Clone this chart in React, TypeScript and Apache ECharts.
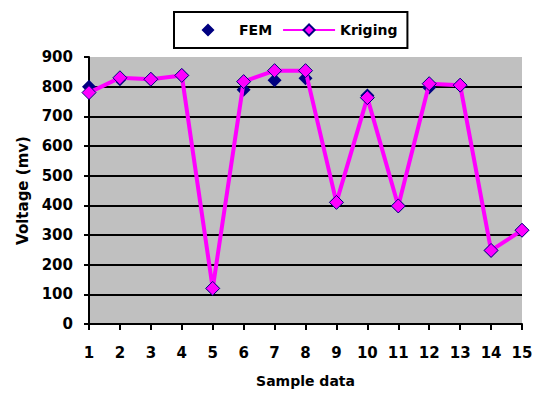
import React, { useEffect, useRef } from "react";
import * as echarts from "echarts";

const categories = ["1", "2", "3", "4", "5", "6", "7", "8", "9", "10", "11", "12", "13", "14", "15"];
const femValues = [800, 825, 825, 838, 120, 790, 822, 828, 410, 770, 398, 797, 805, 248, 316];
const krigingValues = [780, 830, 825, 838, 120, 817, 854, 854, 410, 763, 398, 810, 805, 248, 316];
const yTicks = { min: 0, max: 900, interval: 100 };

const FONT = "'DejaVu Sans', 'Liberation Sans', sans-serif";
// diamond centred inside a 52x14 box (degenerate end segments fix the bounding box)
const FEM_LEGEND_ICON = "path://M0,7L0,7.01M52,7L52,7.01M19.5,7L26,0.5L32.5,7L26,13.5Z";

export default function App() {
  const ref = useRef<HTMLDivElement>(null);
  useEffect(() => {
    if (!ref.current) return;
    const chart = echarts.init(ref.current, null, { renderer: "svg" });
    const gridColors = ["rgba(0,0,0,0)", "#000", "#000", "#000", "#000", "#000", "#000", "#000", "#000", "rgba(0,0,0,0)"];
    chart.setOption({
      animation: false,
      backgroundColor: "#fff",
      textStyle: { fontFamily: FONT },
      legend: {
        left: 174,
        top: 12,
        orient: "horizontal",
        padding: [11, 10, 11, 8],
        borderColor: "#000",
        borderWidth: 2,
        itemWidth: 52,
        itemHeight: 14,
        itemGap: 10,
        textStyle: { fontFamily: FONT, fontWeight: "bold", fontSize: 14, color: "#000" },
        data: [
          { name: "FEM", icon: FEM_LEGEND_ICON, itemStyle: { color: "#000080", opacity: 1 } },
          { name: "Kriging" },
        ],
      },
      grid: {
        left: 89,
        top: 57,
        right: 14,
        bottom: 70,
        backgroundColor: "#C0C0C0",
        show: true,
        borderWidth: 0,
        containLabel: false,
        outerBoundsMode: "none",
      },
      xAxis: {
        type: "category",
        data: categories,
        boundaryGap: false,
        name: "Sample data",
        nameLocation: "middle",
        nameGap: 50,
        nameTextStyle: { fontFamily: FONT, fontWeight: "bold", fontSize: 14, color: "#000" },
        axisLine: { lineStyle: { color: "#000", width: 2 } },
        axisTick: { show: true, length: 6, lineStyle: { color: "#000", width: 2 } },
        axisLabel: { fontFamily: FONT, fontWeight: "bold", fontSize: 15, color: "#000", margin: 21 },
        splitLine: { show: false },
      },
      yAxis: {
        type: "value",
        min: yTicks.min,
        max: yTicks.max,
        interval: yTicks.interval,
        name: "Voltage (mv)",
        nameLocation: "middle",
        nameGap: 59,
        nameTextStyle: { fontFamily: FONT, fontWeight: "bold", fontSize: 15, color: "#000" },
        axisLine: { show: true, lineStyle: { color: "#000", width: 2 } },
        axisTick: { show: true, length: 5, lineStyle: { color: "#000", width: 2 } },
        axisLabel: { fontFamily: FONT, fontWeight: "bold", fontSize: 15, color: "#000", margin: 16 },
        splitLine: { show: true, lineStyle: { color: gridColors, width: 2 } },
      },
      series: [
        {
          name: "FEM",
          type: "scatter",
          data: femValues,
          symbol: "diamond",
          symbolSize: 14,
          itemStyle: { color: "#000080", opacity: 1 },
          z: 2,
        },
        {
          name: "Kriging",
          type: "line",
          data: krigingValues,
          symbol: "diamond",
          symbolSize: 14,
          showAllSymbol: true,
          lineStyle: { color: "#FF00FF", width: 4 },
          itemStyle: { color: "#FF00FF", borderColor: "#000080", borderWidth: 1 },
          z: 3,
        },
      ],
    });
    return () => chart.dispose();
  }, []);
  return <div ref={ref} style={{ width: 536, height: 394, position: "absolute", left: 0, top: 0 }} />;
}
